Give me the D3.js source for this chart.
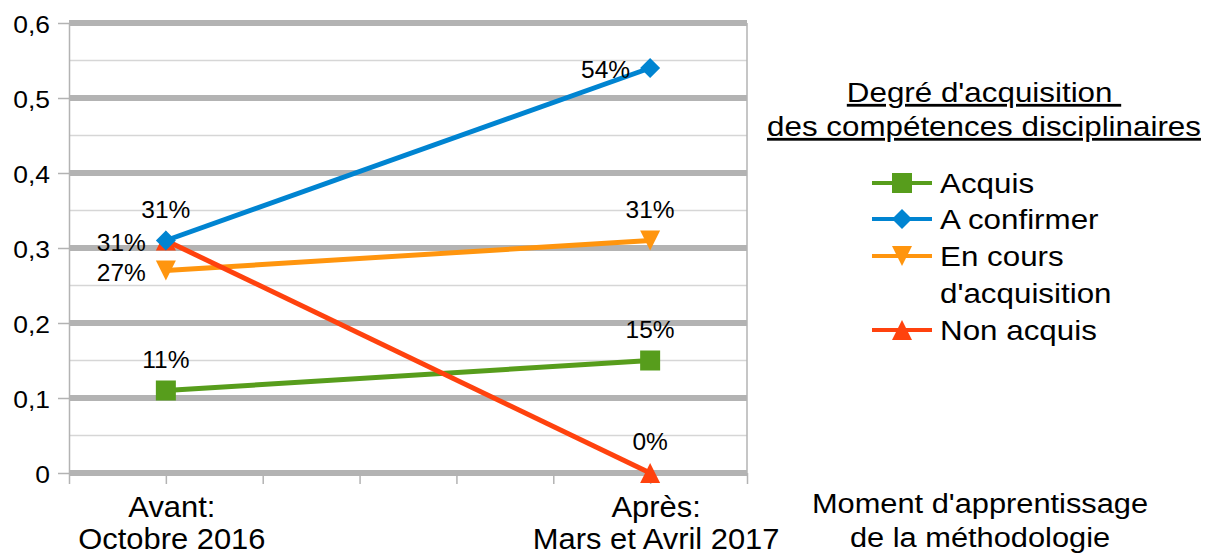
<!DOCTYPE html>
<html>
<head>
<meta charset="utf-8">
<script src="https://cdn.jsdelivr.net/npm/d3@7"></script>
<style>
  body { margin: 0; background: #fff; }
  svg text { font-family: "Liberation Sans", Arial, sans-serif; fill: #000; }
</style>
</head>
<body>
<div id="chart"></div>
<script>
// data
const categoryLines = [["Avant:", "Octobre 2016"], ["Après:", "Mars et Avril 2017"]];
const categoryPos = [1, 6];
const seriesNames = ["Acquis", "A confirmer", "En cours d'acquisition", "Non acquis"];
const acquis = [0.11, 0.15];
const aConfirmer = [0.31, 0.54];
const enCours = [0.27, 0.31];
const nonAcquis = [0.31, 0];
const yTicks = [0, 0.1, 0.2, 0.3, 0.4, 0.5, 0.6];
const legendTitle = ["Degré d'acquisition ", "des compétences disciplinaires"];
const axisTitle = ["Moment d'apprentissage", "de la méthodologie"];

const width = 1206, height = 554;
const colors = ["#579d1c", "#0084d1", "#ff950e", "#ff420e"];
const shapes = ["square", "diamond", "down", "up"];
// where each point label goes
const labelPlace = [["above", "above"], ["left", "left"], ["left", "above"], ["above", "above"]];

const series = [acquis, aConfirmer, enCours, nonAcquis].map((vals, i) => ({
    name: seriesNames[i], color: colors[i], shape: shapes[i],
    points: vals.map((v, j) => ({x: categoryPos[j], v: v, place: labelPlace[i][j]}))
}));

const x = d3.scaleLinear().domain([0, 7]).range([69, 747]);
const y = d3.scaleLinear().domain([0, 0.6]).range([473, 23]);

const svg = d3.select("#chart").append("svg")
    .attr("width", width)
    .attr("height", height);

function stretch(sel, px, py, sx) {
    sel.attr("transform", "translate(" + px + "," + py + ") scale(" + sx + ",1)");
}

function markerPath(shape, s) {
    const h = s / 2;
    if (shape == "square") return `M${-h},${-h}H${h}V${h}H${-h}Z`;
    if (shape == "diamond") return `M0,${-h}L${h},0L0,${h}L${-h},0Z`;
    if (shape == "down") return `M${-h},${-h}H${h}L0,${h}Z`;
    return `M0,${-h}L${h},${h}H${-h}Z`;
}

// minor grid
const minor = d3.range(0.05, 0.6, 0.1);
svg.append("g").selectAll("line")
    .data(minor)
    .enter().append("line")
    .attr("x1", x(0)).attr("x2", x(7))
    .attr("y1", d => y(d)).attr("y2", d => y(d))
    .attr("stroke", "#d6d6d6")
    .attr("stroke-width", 1.5);

// major grid
svg.append("g").selectAll("line")
    .data(yTicks)
    .enter().append("line")
    .attr("x1", x(0)).attr("x2", x(7))
    .attr("y1", d => y(d)).attr("y2", d => y(d))
    .attr("stroke", "#b3b3b3")
    .attr("stroke-width", 6);

// right border
svg.append("line")
    .attr("x1", x(7)).attr("x2", x(7))
    .attr("y1", y(0.6)).attr("y2", y(0))
    .attr("stroke", "#b3b3b3").attr("stroke-width", 1.5);

// y axis
const yAxis = svg.append("g")
    .attr("transform", "translate(" + x(0) + ",0)")
    .call(d3.axisLeft(y).tickValues(yTicks).tickSize(11).tickSizeOuter(0).tickPadding(8)
        .tickFormat(d => d === 0 ? "0" : d.toFixed(1).replace(".", ",")));
yAxis.selectAll("path, line").attr("stroke", "#b3b3b3").attr("stroke-width", 1.5);
// tick groups are already translated to y(d)
yAxis.selectAll("text")
    .attr("x", null).attr("dy", null)
    .style("font-size", "23px")
    .call(stretch, -19, 9, 1.15);

// x axis ticks
const xAxis = svg.append("g")
    .attr("transform", "translate(0," + y(0) + ")")
    .call(d3.axisBottom(x).ticks(7).tickSize(11).tickFormat(""));
xAxis.select(".domain").remove();
xAxis.selectAll("line").attr("stroke", "#b3b3b3").attr("stroke-width", 1.5);

// category labels
categoryLines.forEach((lines, j) => {
    lines.forEach((t, k) => {
        svg.append("text")
            .attr("text-anchor", "middle")
            .style("font-size", "30px")
            .text(t)
            .call(stretch, x(categoryPos[j]) + 6, 517 + k * 32, 1.03);
    });
});

// lines
const line = d3.line().x(d => x(d.x)).y(d => y(d.v));
svg.append("g").selectAll("path")
    .data(series)
    .enter().append("path")
    .attr("d", d => line(d.points))
    .attr("fill", "none")
    .attr("stroke", d => d.color)
    .attr("stroke-width", 5);

// markers (blue on top)
const markerOrder = [0, 2, 3, 1];
markerOrder.forEach(i => {
    const s = series[i];
    svg.append("g").selectAll("path")
        .data(s.points)
        .enter().append("path")
        .attr("d", markerPath(s.shape, 20))
        .attr("transform", d => "translate(" + x(d.x) + "," + y(d.v) + ")")
        .attr("fill", s.color);
});

// point labels
const pct = d3.format(".0%");
series.forEach(s => {
    svg.append("g").selectAll("text")
        .data(s.points)
        .enter().append("text")
        .style("font-size", "24.5px")
        .attr("text-anchor", d => d.place == "left" ? "end" : "middle")
        .attr("x", d => d.place == "left" ? x(d.x) - 20 : x(d.x))
        .attr("y", d => d.place == "left" ? y(d.v) + 10 : y(d.v) - 23)
        .text(d => pct(d.v));
});

// legend
legendTitle.forEach((t, k) => {
    svg.append("text")
        .attr("text-anchor", "middle")
        .style("font-size", "28px")
        .style("text-decoration", "underline")
        .style("white-space", "pre")
        .text(t)
        .call(stretch, 984, 102 + k * 34, 1.12);
});

const legendRows = [183, 219, 256, 330];
const legend = svg.append("g").selectAll("g")
    .data(series)
    .enter().append("g")
    .attr("transform", (d, i) => "translate(902," + legendRows[i] + ")");
legend.append("line")
    .attr("x1", -30).attr("x2", 30)
    .attr("stroke", d => d.color)
    .attr("stroke-width", 4);
legend.append("path")
    .attr("d", d => markerPath(d.shape, 20))
    .attr("fill", d => d.color);
legend.each(function(d) {
    const g = d3.select(this);
    const words = d.name == "En cours d'acquisition" ? ["En cours", "d'acquisition"] : [d.name];
    words.forEach((w, k) => {
        g.append("text")
            .style("font-size", "28px")
            .text(w)
            .call(stretch, 38, 10 + k * 37, 1.12);
    });
});

// axis title
axisTitle.forEach((t, k) => {
    svg.append("text")
        .attr("text-anchor", "middle")
        .style("font-size", "28px")
        .text(t)
        .call(stretch, 980, 513 + k * 34, 1.1);
});
</script>
</body>
</html>
